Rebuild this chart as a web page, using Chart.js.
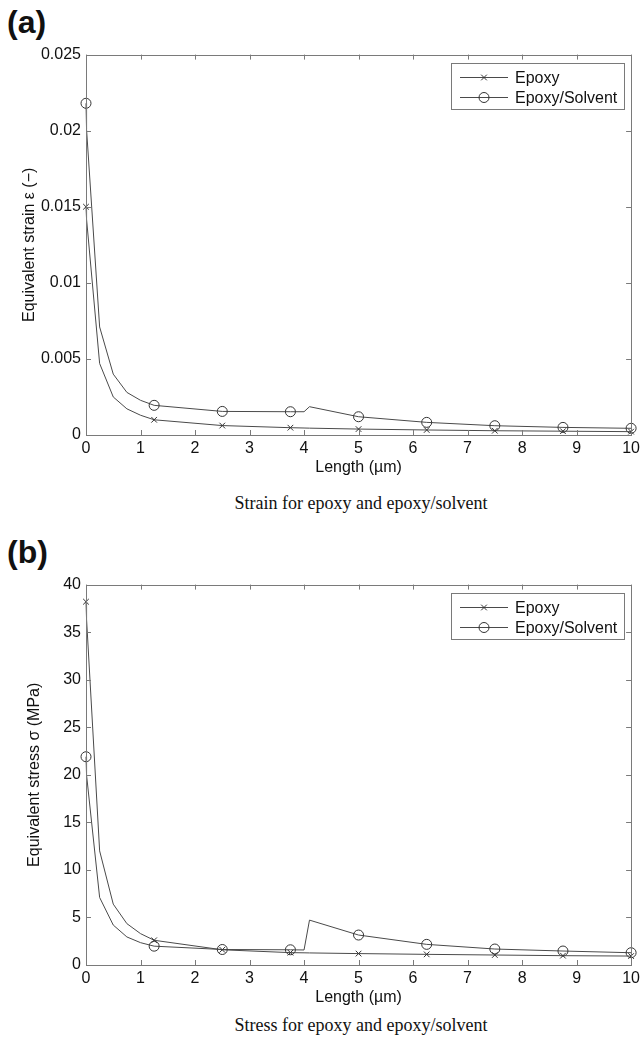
<!DOCTYPE html>
<html>
<head>
<meta charset="utf-8">
<script src="https://cdn.jsdelivr.net/npm/chart.js@4/dist/chart.umd.min.js"></script>
<style>
  body { margin: 0; background: #fff; }
  #page { position: relative; width: 644px; height: 1039px; overflow: hidden; }
  .panel { position: absolute; left: 0; }
  .tag { position: absolute; left: 7px; font: bold 32px "Liberation Sans", Arial, sans-serif; line-height: 32px; color: #111; }
  .caption { position: absolute; left: 86px; width: 550px; text-align: center; font: 18px "Liberation Serif", "Times New Roman", serif; line-height: 20px; color: #111; }
</style>
</head>
<body>
<div id="page">
  <div class="tag" style="top:6px">(a)</div>
  <canvas id="strainChart" class="panel" style="top:40px" width="644" height="440"></canvas>
  <div class="caption" style="top:493px">Strain for epoxy and epoxy/solvent</div>

  <div class="tag" style="top:536px">(b)</div>
  <canvas id="stressChart" class="panel" style="top:570px" width="644" height="440"></canvas>
  <div class="caption" style="top:1015px">Stress for epoxy and epoxy/solvent</div>
</div>
<script>
// length along the path (um), shared by both series
const lengthX = [0, 0.01, 0.25, 0.5, 0.75, 1, 1.25, 2.5, 3.75, 4.0, 4.1, 5, 6.25, 7.5, 8.75, 10];
const markerX = [0, 1.25, 2.5, 3.75, 5, 6.25, 7.5, 8.75, 10];

const strainEpoxy = [0.0150, 0.0142, 0.0047, 0.0025, 0.00172, 0.0013, 0.00100, 0.00062, 0.00048, 0.00046, 0.00045, 0.00039, 0.00033, 0.00028, 0.00025, 0.00022];
const strainSolvent = [0.0218, 0.0201, 0.0071, 0.0040, 0.00280, 0.00228, 0.00195, 0.00155, 0.00153, 0.00153, 0.00186, 0.00120, 0.00083, 0.00061, 0.00050, 0.00044];

const stressEpoxy = [38.2, 36.4, 12.0, 6.4, 4.35, 3.3, 2.6, 1.6, 1.3, 1.28, 1.27, 1.2, 1.12, 1.05, 0.98, 0.94];
const stressSolvent = [21.9, 20.0, 7.1, 4.2, 2.95, 2.35, 1.98, 1.63, 1.6, 1.58, 4.72, 3.15, 2.17, 1.68, 1.47, 1.29];

const xTickLabels = ['0', '1', '2', '3', '4', '5', '6', '7', '8', '9', '10'];
const strainTickLabels = ['0', '0.005', '0.01', '0.015', '0.02', '0.025'];
const stressTickLabels = ['0', '5', '10', '15', '20', '25', '30', '35', '40'];

const seriesNames = ['Epoxy', 'Epoxy/Solvent'];

const FONT = '"Liberation Sans", Arial, sans-serif';
const AXIS_GRAY = '#7a7a7a';
const LINE_GRAY = '#4a4a4a';

function isMarker(x) {
  return markerX.some(m => Math.abs(m - x) < 1e-9);
}

function toPoints(ys) {
  return lengthX.map((x, i) => ({ x: x, y: ys[i] }));
}

// matlab style box with inward ticks on all four sides
const boxAxes = {
  id: 'boxAxes',
  afterDatasetsDraw(chart) {
    const ctx = chart.ctx;
    const a = chart.chartArea;
    const xs = chart.scales.x, ys = chart.scales.y;
    ctx.save();
    ctx.strokeStyle = AXIS_GRAY;
    ctx.lineWidth = 1;
    ctx.strokeRect(Math.round(a.left) + 0.5, Math.round(a.top) + 0.5, Math.round(a.right - a.left), Math.round(a.bottom - a.top));
    ctx.beginPath();
    xs.ticks.forEach(t => {
      const px = Math.round(xs.getPixelForValue(t.value)) + 0.5;
      ctx.moveTo(px, a.bottom); ctx.lineTo(px, a.bottom - 5);
      ctx.moveTo(px, a.top); ctx.lineTo(px, a.top + 5);
    });
    ys.ticks.forEach(t => {
      const py = Math.round(ys.getPixelForValue(t.value)) + 0.5;
      ctx.moveTo(a.left, py); ctx.lineTo(a.left + 5, py);
      ctx.moveTo(a.right, py); ctx.lineTo(a.right - 5, py);
    });
    ctx.stroke();
    ctx.restore();
  }
};

// legend box in the upper right corner of the axes
const boxLegend = {
  id: 'boxLegend',
  afterDraw(chart) {
    const ctx = chart.ctx;
    const a = chart.chartArea;
    const w = 173, h = 46;
    const x0 = Math.round(a.right - 7 - w), y0 = Math.round(a.top + 8);
    ctx.save();
    ctx.fillStyle = '#fff';
    ctx.fillRect(x0, y0, w, h);
    ctx.strokeStyle = AXIS_GRAY;
    ctx.lineWidth = 1;
    ctx.strokeRect(x0 + 0.5, y0 + 0.5, w, h);
    chart.data.datasets.forEach((ds, i) => {
      const y = y0 + 14.5 + i * 20;
      ctx.strokeStyle = LINE_GRAY;
      ctx.beginPath();
      ctx.moveTo(x0 + 9, y);
      ctx.lineTo(x0 + 57, y);
      ctx.stroke();
      ctx.fillStyle = 'rgba(0,0,0,0)';
      ctx.strokeStyle = '#333';
      Chart.helpers.drawPoint(ctx, { pointStyle: ds.pointStyle, radius: ds.markerSize, rotation: 0, borderWidth: 1 }, x0 + 33, y);
      ctx.fillStyle = '#111';
      ctx.font = '16px ' + FONT;
      ctx.textBaseline = 'middle';
      ctx.fillText(ds.label, x0 + 64, y + 1);
    });
    ctx.restore();
  }
};

function makeChart(id, epoxy, solvent, yMax, yStep, yLabels, yTitle, titlePad) {
  const mk = (label, ys, style, size) => ({
    label: label,
    data: toPoints(ys),
    showLine: true,
    borderColor: LINE_GRAY,
    borderWidth: 1,
    pointStyle: style,
    markerSize: size,
    pointRadius: c => isMarker(c.raw.x) ? size : 0,
    pointBorderColor: '#333',
    pointBorderWidth: 1,
    pointBackgroundColor: 'rgba(0,0,0,0)',
    tension: 0,
    clip: false
  });

  return new Chart(document.getElementById(id), {
    type: 'scatter',
    data: {
      datasets: [
        mk(seriesNames[0], epoxy, 'crossRot', 4),
        mk(seriesNames[1], solvent, 'circle', 5)
      ]
    },
    options: {
      responsive: false,
      animation: false,
      events: [],
      layout: { padding: { top: 12, right: 8, left: 0, bottom: 0 }, autoPadding: false },
      plugins: { legend: { display: false }, tooltip: { enabled: false } },
      scales: {
        x: {
          type: 'linear', min: 0, max: 10,
          grid: { display: false, drawTicks: false },
          border: { display: false },
          ticks: { stepSize: 1, padding: 4, color: '#111', font: { family: FONT, size: 16 }, maxRotation: 0,
                   callback: (v, i) => xTickLabels[i] },
          title: { display: true, text: 'Length (\u00b5m)', color: '#111', font: { family: FONT, size: 16 }, padding: { top: 0, bottom: 3 } },
          afterFit: s => { s.height = 45; }
        },
        y: {
          type: 'linear', min: 0, max: yMax,
          grid: { display: false, drawTicks: false },
          border: { display: false },
          ticks: { stepSize: yStep, padding: 5, color: '#111', font: { family: FONT, size: 16 },
                   callback: (v, i) => yLabels[i] },
          title: { display: true, text: yTitle, color: '#111', font: { family: FONT, size: 16 }, padding: { top: titlePad, bottom: 0 } },
          afterFit: s => { s.width = 86; }
        }
      }
    },
    plugins: [boxAxes, boxLegend]
  });
}

makeChart('strainChart', strainEpoxy, strainSolvent, 0.025, 0.005, strainTickLabels, 'Equivalent strain \u03b5 (\u2212)', 20);
makeChart('stressChart', stressEpoxy, stressSolvent, 40, 5, stressTickLabels, 'Equivalent stress \u03c3 (MPa)', 25);
</script>
</body>
</html>
